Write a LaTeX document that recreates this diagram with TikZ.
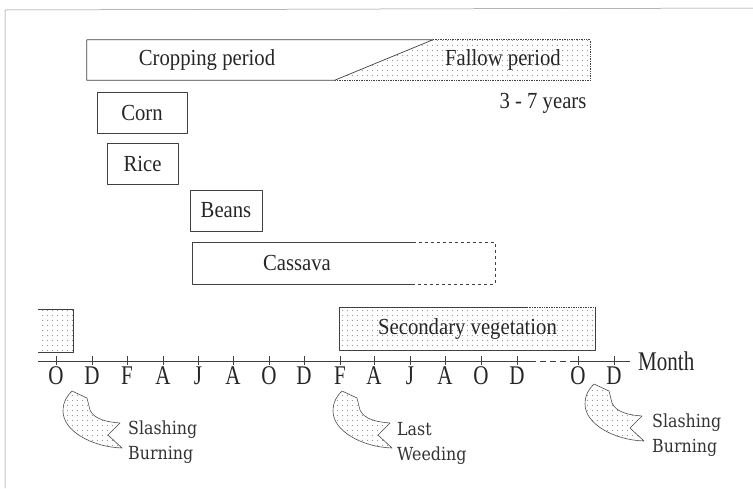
\documentclass[tikz,border=0pt]{standalone}
\usepackage{fontspec}
\setmainfont{Liberation Serif}[FakeStretch=0.9]
\newfontfamily\monthfont{Liberation Serif}[FakeStretch=0.78]
\newfontfamily\notefont{DejaVu Serif}[FakeStretch=0.88]
\usepackage{tikz}
\usetikzlibrary{positioning, calc, patterns}

\pgfdeclarepatternformonly{sparsedots}{\pgfpoint{-1pt}{-1pt}}{\pgfpoint{6pt}{6pt}}{\pgfpoint{5pt}{5pt}}{%
  \pgfpathcircle{\pgfpoint{2.5pt}{2.5pt}}{0.55pt}\pgfusepath{fill}}

\tikzset{
  rim/.style={draw=black!75, line width=0.7pt},
  dotfill/.style={pattern=sparsedots, pattern color=black!40},
  lbl/.style={inner sep=0pt, text=black!85, font=\fontsize{23}{26}\selectfont},
  box/.style={lbl, rim, minimum height=41pt},
  mon/.style={inner sep=0pt, text=black!85, font=\monthfont\fontsize{27}{30}\selectfont},
  note/.style={inner sep=0pt, anchor=west, align=left, text=black!80, font=\notefont\fontsize{18}{25}\selectfont},
  flag/.pic={
    \path[draw=black!70, line width=0.6pt, dotfill] (0,0) -- (15,7) -- (18,19)
      .. controls (22,28) and (34,31) .. (48,32) -- (36,44) -- (50,57)
      .. controls (20,56) and (-9,40) .. (-9,20)
      .. controls (-9,10) and (-4,4) .. (0,0) -- cycle;
  }
}

\begin{document}
\begin{tikzpicture}[x=1pt, y=-1pt, line join=round]
  \useasboundingbox (0,0) rectangle (753,488);
  \draw[black!45, line width=0.5pt] (5,488) -- (5,10) -- (753,8);

  \node (period) [minimum width=503pt, minimum height=40pt, inner sep=0pt] at (338.5,60) {};
  \coordinate (slopelow) at ($(period.south west)+(248,0)$);
  \coordinate (slopehigh) at ($(period.north west)+(346,0)$);
  \fill[dotfill] (slopelow) -- (slopehigh) -- (period.north east) -- (period.south east) -- cycle;
  \draw[rim] (slopehigh) -- (period.north west) -- (period.south west) -- (slopelow) -- cycle;
  \draw[rim, densely dotted] (slopehigh) -- (period.north east) -- (period.south east) -- (slopelow);
  \node (crop) [lbl] at (207,60) {Cropping period};
  \node (fallow) [lbl] at (503,60) {Fallow period};
  \node (years) [lbl] at (543,103) {3 - 7 years};

  \node (corn) [box, minimum width=90pt] at (142,113) {Corn};
  \node (rice) [box, minimum width=71pt] at (142.5,164) {Rice};
  \node (beans) [box, minimum width=72pt] at (226,210.5) {Beans};

  \node (cassava) [minimum width=302pt, minimum height=41pt, inner sep=0pt] at (344,263.5) {};
  \node (cassavatxt) [lbl] at (297,263) {Cassava};
  \draw[rim] ($(cassava.north west)+(220,0)$) -- (cassava.north west) -- (cassava.south west) -- ($(cassava.south west)+(220,0)$);
  \draw[rim, dash pattern=on 3pt off 3pt] ($(cassava.north west)+(220,0)$) -- (cassava.north east) -- (cassava.south east) -- ($(cassava.south west)+(220,0)$);

  \node (secveg) [lbl, dotfill, minimum width=255pt, minimum height=42pt] at (467.5,329) {Secondary vegetation};
  \draw[rim] ($(secveg.north west)+(187,0)$) -- (secveg.north west) -- (secveg.south west) -- (secveg.south east) -- (secveg.north east);
  \draw[rim, densely dotted] ($(secveg.north west)+(187,0)$) -- (secveg.north east);

  \node (stub) [dotfill, minimum width=35pt, minimum height=42pt, inner sep=0pt] at (55.5,331) {};
  \draw[rim] (stub.north west) -- (stub.north east) -- (stub.south east) -- (stub.south west);

  \coordinate (axisleft) at (38,361);
  \coordinate (gapleft) at (530,361);
  \coordinate (gapright) at (573,361);
  \coordinate (axisright) at (630,361);
  \draw[rim] (axisleft) -- (gapleft);
  \draw[rim, dash pattern=on 6pt off 4pt] (gapleft) -- (gapright);
  \draw[rim] (gapright) -- (axisright);
  \node (month) [mon, anchor=west, right=8pt of axisright] {Month};

  \foreach \x/\m in {56/O, 92/D, 127/F, 163/A, 198/J, 233/A, 269/O, 304/D, 340/F, 374/A, 410/J, 445/A, 481/O, 517/D, 578/O, 614/D} {
    \draw[rim] (\x,356) -- (\x,365);
    \node (m\x) [mon] at (\x,376) {\m};
  }

  \pic at (72,391) {flag};
  \pic at (342,391) {flag};
  \pic at (594,384) {flag};
  \node (slash1) [note] at (128,442) {Slashing\\Burning};
  \node (weed) [note] at (397,443) {Last\\Weeding};
  \node (slash2) [note] at (652,435) {Slashing\\Burning};
\end{tikzpicture}
\end{document}
